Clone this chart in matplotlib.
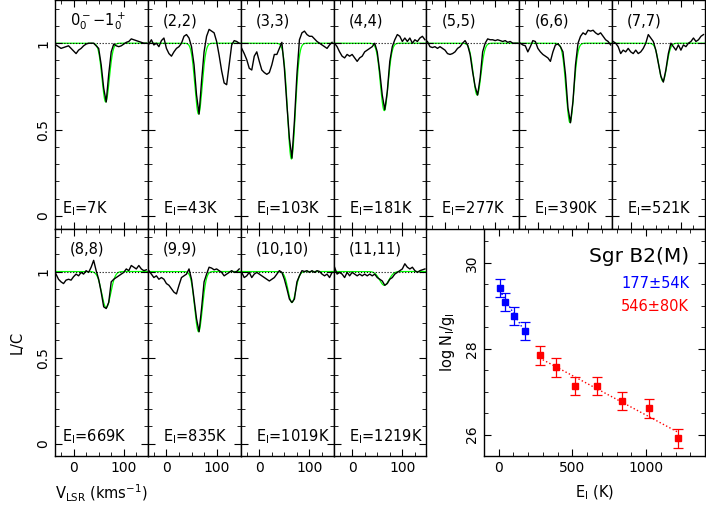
import numpy as np
import matplotlib
matplotlib.use('Agg')
import matplotlib.pyplot as plt
from matplotlib.ticker import MultipleLocator

#############SPECTRA (L/C) - one value per 5 km/s channel, v = -35 ... 145
vel = np.arange(-35, 150, 5)

spec00 = [0.99, 0.98, 0.97, 0.975, 0.98, 0.985, 0.97, 0.955, 0.94, 0.96, 0.97, 0.985, 0.995,
          1.0, 1.0, 1.0, 0.985, 0.97, 0.875, 0.74, 0.66, 0.82, 0.95, 0.995, 0.985, 0.98, 0.985,
          0.995, 1.005, 1.01, 1.025, 1.02, 1.015, 1.01, 1.005, 1.0, 1.0]
spec22 = [0.995, 1.02, 0.99, 1.0, 0.98, 1.015, 1.03, 0.97, 0.94, 0.925, 0.95, 0.97, 0.98,
          1.0, 1.04, 1.05, 1.03, 0.98, 0.875, 0.70, 0.59, 0.78, 0.95, 1.04, 1.08, 1.07, 1.06,
          1.01, 0.93, 0.84, 0.77, 0.76, 0.875, 0.99, 1.015, 1.01, 1.0]
spec33 = [0.97, 0.94, 0.905, 0.855, 0.845, 0.925, 0.95, 0.895, 0.845, 0.83, 0.82, 0.83, 0.875,
          0.935, 0.935, 0.97, 1.005, 0.855, 0.645, 0.45, 0.335, 0.55, 0.82, 1.02, 1.06, 1.07, 1.05,
          1.04, 1.04, 1.025, 1.01, 1.0, 0.99, 0.98, 0.97, 0.99, 1.005]
spec44 = [1.0, 0.98, 0.95, 0.925, 0.915, 0.935, 0.925, 0.935, 0.915, 0.895, 0.915, 0.925, 0.95,
          0.96, 0.97, 0.98, 1.0, 0.95, 0.835, 0.70, 0.615, 0.72, 0.895, 0.98, 1.02, 1.05, 1.04,
          1.01, 1.03, 1.01, 1.03, 1.0, 1.02, 1.01, 1.03, 1.04, 1.02]
spec55 = [1.01, 0.98, 0.975, 0.98, 0.97, 0.98, 0.97, 0.96, 0.94, 0.935, 0.94, 0.95, 0.97,
          0.98, 1.0, 1.015, 0.99, 0.935, 0.835, 0.75, 0.70, 0.80, 0.95, 1.0, 1.025, 1.02, 1.02,
          1.015, 1.02, 1.015, 1.01, 1.015, 1.005, 1.01, 1.0, 1.0, 1.0]
spec66 = [1.0, 0.99, 0.985, 0.95, 0.98, 1.015, 1.01, 0.97, 0.95, 0.935, 0.925, 0.915, 0.895,
          0.95, 0.99, 0.995, 0.98, 0.95, 0.82, 0.625, 0.54, 0.665, 0.875, 1.0, 1.04, 1.06, 1.05,
          1.075, 1.07, 1.075, 1.06, 1.05, 1.06, 1.04, 1.02, 1.01, 0.99]
spec77 = [1.01, 1.0, 0.98, 0.94, 0.96, 0.95, 0.97, 0.95, 0.94, 0.96, 0.94, 0.95, 0.97,
          1.0, 1.05, 1.03, 1.01, 0.96, 0.885, 0.81, 0.775, 0.845, 0.94, 1.0, 0.98, 0.96, 0.99,
          0.96, 0.99, 0.98, 1.0, 1.01, 1.03, 1.01, 1.02, 1.04, 1.05]
spec88 = [0.985, 0.955, 0.94, 0.93, 0.95, 0.955, 0.95, 0.97, 0.985, 0.975, 0.995, 0.985, 1.005,
          0.995, 1.025, 1.065, 1.005, 0.955, 0.88, 0.795, 0.785, 0.82, 0.94, 0.955, 0.965, 0.975, 0.985,
          0.995, 1.015, 1.005, 1.035, 1.025, 1.015, 1.035, 1.015, 1.005, 1.01]
spec99 = [1.005, 0.985, 0.965, 0.975, 0.955, 0.965, 0.955, 0.93, 0.92, 0.90, 0.88, 0.87, 0.92,
          0.965, 0.975, 0.985, 1.015, 0.955, 0.84, 0.725, 0.65, 0.785, 0.94, 0.985, 1.025, 1.02, 1.01,
          1.015, 1.005, 0.995, 0.975, 0.985, 0.995, 1.005, 0.995, 1.0, 1.015]
spec1010 = [0.995, 0.965, 0.975, 0.995, 0.965, 0.985, 0.995, 0.985, 0.975, 0.965, 0.955, 0.945, 0.955,
            0.965, 0.985, 1.005, 0.995, 0.955, 0.90, 0.84, 0.82, 0.84, 0.94, 0.975, 1.005, 1.0, 1.005,
            0.995, 1.005, 0.995, 1.005, 1.0, 0.985, 0.975, 0.985, 0.965, 0.995]
spec1111 = [1.025, 0.985, 0.995, 0.985, 0.965, 0.995, 0.975, 0.995, 0.985, 0.975, 0.985, 0.975, 0.985,
            0.975, 0.985, 0.975, 0.985, 0.965, 0.955, 0.945, 0.92, 0.93, 0.955, 0.965, 0.985, 0.995, 1.005,
            1.015, 1.045, 1.025, 1.015, 1.025, 1.005, 0.995, 1.005, 1.01, 1.015]

spectra = [spec00, spec22, spec33, spec44, spec55, spec66, spec77,
           spec88, spec99, spec1010, spec1111]
labels = [r'0$_0^-$$-$1$_0^+$', '(2,2)', '(3,3)', '(4,4)', '(5,5)', '(6,6)', '(7,7)',
          '(8,8)', '(9,9)', '(10,10)', '(11,11)']
El = [7, 43, 103, 181, 277, 390, 521, 669, 835, 1019, 1219]

#############GAUSSIAN FITS (green)
fitCenter = [64, 64, 64, 64, 64, 64, 64, 65, 64, 65, 64]
fitDepth = [0.34, 0.41, 0.67, 0.39, 0.30, 0.46, 0.22, 0.21, 0.35, 0.18, 0.08]
fitFwhm = [17, 17, 18, 18, 18, 18, 18, 21, 18, 18, 22]

#############ROTATION DIAGRAM
logNg = [29.42, 29.09, 28.76, 28.41, 27.85, 27.57, 27.13, 27.13, 26.78, 26.61, 25.91]
logNgErr = [0.21, 0.21, 0.21, 0.21, 0.22, 0.22, 0.22, 0.22, 0.22, 0.22, 0.22]
nWarm = 4
Twarm = '177±54K'
Thot = '546±80K'

W, H = 706., 525.
fig = plt.figure(figsize=(7.06, 5.25), dpi=100)
plt.rcParams['font.family'] = 'DejaVu Sans'

pw = 650. / 7
rowTop = [0., 228.5]
rowH = [228.5, 227.5]
vfine = np.linspace(-40, 150, 600)

for i in range(11):
    row = 0 if i < 7 else 1
    col = i if i < 7 else i - 7
    left = 55 + col * pw
    ax = fig.add_axes([left / W, 1 - (rowTop[row] + rowH[row]) / H, pw / W, rowH[row] / H])
    fit = 1 - fitDepth[i] * np.exp(-4 * np.log(2) * (vfine - fitCenter[i]) ** 2 / fitFwhm[i] ** 2)
    ax.plot(vfine, fit, color=(0, 1, 0), lw=0.9, zorder=1)
    ax.axhline(1, color='k', ls=':', lw=0.8, zorder=2)
    ax.plot(vel, spectra[i], color='k', lw=1.0, zorder=3)
    ax.set_xlim(-37, 148)
    ax.set_ylim(-0.072, 1.25)
    ax.xaxis.set_major_locator(MultipleLocator(100))
    ax.xaxis.set_minor_locator(MultipleLocator(25))
    ax.yaxis.set_major_locator(MultipleLocator(0.5))
    ax.yaxis.set_minor_locator(MultipleLocator(0.1))
    ax.tick_params(which='both', direction='in', top=True, right=True, labelsize=10)
    ax.tick_params(which='major', length=5)
    ax.tick_params(which='minor', length=3)
    ax.tick_params(axis='y', labelrotation=90)
    for s in ax.spines.values():
        s.set_linewidth(1.0)
    for t in ax.get_yticklabels():
        t.set_va('center')
    if col != 0:
        ax.set_yticklabels([])
    else:
        ax.set_yticks([0, 0.5, 1])
        ax.set_yticklabels(['0', '0.5', '1'])
    if row == 0:
        ax.set_xticklabels([])
    ax.text(-7, 1.13, labels[i], fontsize=10.5, va='center', ha='left')
    ex = -23 if col == 0 else -7
    ax.text(ex, 0.04, r'E$_{\rm l}$=%dK' % El[i], fontsize=10.5, va='center', ha='left')
    if i == 7:
        ax.set_ylabel('L/C', fontsize=10.5, labelpad=8)
        ax.set_xlabel(r'V$_{\rm LSR}$ (kms$^{-1}$)', fontsize=10.5, labelpad=6)

#############ROTATION DIAGRAM PANEL
ax = fig.add_axes([484 / W, 1 - 456 / H, 221 / W, 227.5 / H])
E = np.array(El, dtype=float)
N = np.array(logNg)
pw_ = np.polyfit(E[:nWarm], N[:nWarm], 1)
ph_ = np.polyfit(E[nWarm:], N[nWarm:], 1)
ew = np.array([E[0], E[nWarm - 1]])
eh = np.array([E[nWarm], E[-1]])
ax.plot(ew, np.polyval(pw_, ew), color='b', ls=':', lw=1.0)
ax.plot(eh, np.polyval(ph_, eh), color='r', ls=':', lw=1.0)
ax.errorbar(E[:nWarm], N[:nWarm], yerr=logNgErr[:nWarm], fmt='s', color='b', ms=4.5,
            capsize=3.5, elinewidth=0.9, capthick=0.9)
ax.errorbar(E[nWarm:], N[nWarm:], yerr=logNgErr[nWarm:], fmt='s', color='r', ms=4.5,
            capsize=3.5, elinewidth=0.9, capthick=0.9)
ax.set_xlim(-100, 1400)
ax.set_ylim(25.5, 30.8)
ax.xaxis.set_major_locator(MultipleLocator(500))
ax.xaxis.set_minor_locator(MultipleLocator(100))
ax.yaxis.set_major_locator(MultipleLocator(2))
ax.yaxis.set_minor_locator(MultipleLocator(0.5))
ax.tick_params(which='both', direction='in', top=True, right=True, labelsize=10)
ax.tick_params(which='major', length=5)
ax.tick_params(which='minor', length=3)
ax.tick_params(axis='y', labelrotation=90)
for t in ax.get_yticklabels():
    t.set_va('center')
for s in ax.spines.values():
    s.set_linewidth(1.0)
ax.text(1293, 30.14, 'Sgr B2(M)', fontsize=14.5, ha='right', va='center')
ax.text(1293, 29.52, Twarm, fontsize=10.5, ha='right', va='center', color='b')
ax.text(1293, 28.99, Thot, fontsize=10.5, ha='right', va='center', color='r')
ax.set_xlabel(r'E$_{\rm l}$ (K)', fontsize=10.5, labelpad=6)
ax.set_ylabel(r'log N$_{\rm l}$/g$_{\rm l}$', fontsize=10.5, labelpad=6)

plt.savefig('out.png', dpi=100)
